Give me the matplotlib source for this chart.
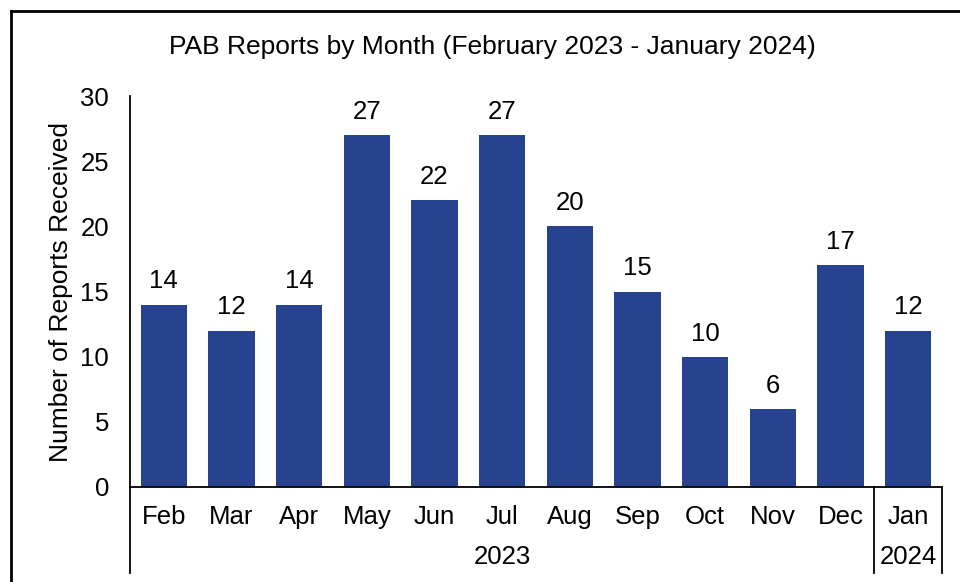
import matplotlib
matplotlib.use("Agg")
import matplotlib.pyplot as plt
from matplotlib.lines import Line2D

plt.rcParams["font.family"] = ["Liberation Sans", "DejaVu Sans"]

months = ["Feb", "Mar", "Apr", "May", "Jun", "Jul", "Aug", "Sep", "Oct", "Nov", "Dec", "Jan"]
reports = [14, 12, 14, 27, 22, 27, 20, 15, 10, 6, 17, 12]
years = ["2023", "2024"]
year_counts = [11, 1]

bar_color = "#27428f"
fs = 18.5

fig = plt.figure(figsize=(9.6, 5.82), dpi=100)
ax = fig.add_axes([130 / 960, 95 / 582, 812 / 960, 391 / 582])

x = list(range(len(months)))
bars = ax.bar(x, reports, width=0.68, color=bar_color)
for b, v in zip(bars, reports):
    ax.annotate(str(v), (b.get_x() + b.get_width() / 2, v), xytext=(0, 8),
                textcoords="offset points", ha="center", va="bottom", fontsize=fs)

ax.set_xlim(-0.5, len(months) - 0.5)
ax.set_ylim(0, 30)
ax.set_yticks(range(0, 31, 5))
ax.set_xticks(x)
ax.set_xticklabels(months)
ax.tick_params(axis="both", length=0, labelsize=fs)
ax.tick_params(axis="y", pad=15)
ax.tick_params(axis="x", pad=13)

for s in ["top", "right"]:
    ax.spines[s].set_visible(False)
ax.spines["left"].set_linewidth(1.3)
ax.spines["bottom"].set_linewidth(1.3)

ax.set_ylabel("Number of Reports Received", fontsize=19)
ax.yaxis.set_label_coords(-0.07, 0.5)
fig.text(492 / 960, 1 - 47 / 582, "PAB Reports by Month (February 2023 - January 2024)",
         ha="center", va="center", fontsize=19)

# multi-level category axis: year groups with separators
trans = ax.get_xaxis_transform()
low = -0.22
ax.add_line(Line2D([-0.5, -0.5], [0, low], transform=trans, color="black", lw=1.3, clip_on=False))
start = -0.5
for yr, n in zip(years, year_counts):
    end = start + n
    ax.add_line(Line2D([end, end], [0, low], transform=trans, color="black", lw=1.3, clip_on=False))
    ax.text((start + end) / 2, -0.179, yr, transform=trans, ha="center", va="center", fontsize=fs)
    start = end

# chart frame
fig.add_artist(Line2D([11 / 960, 1.0], [1 - 11 / 582, 1 - 11 / 582], transform=fig.transFigure, color="black", lw=2))
fig.add_artist(Line2D([11 / 960, 11 / 960], [0, 1 - 11 / 582], transform=fig.transFigure, color="black", lw=2))

fig.savefig("out.png", dpi=100)
